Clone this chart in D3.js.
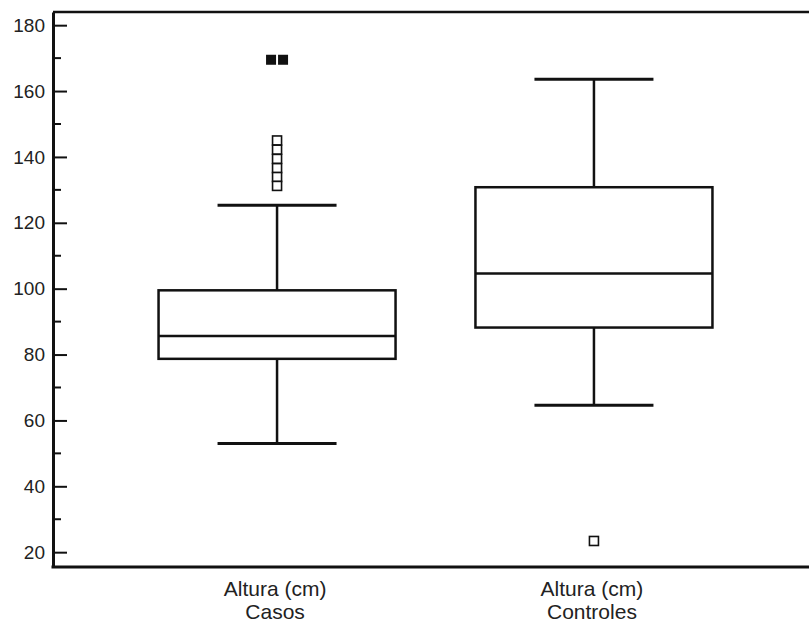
<!DOCTYPE html>
<html>
<head>
<meta charset="utf-8">
<script src="https://cdn.jsdelivr.net/npm/d3@7"></script>
<style>
  body { margin: 0; background: #fff; }
  .chart text { font-family: 'Liberation Sans', Arial, sans-serif; fill: #222; }
</style>
</head>
<body>
<div class="content"></div>
<script>
var width = 809
var height = 623

// group names (two label lines each)
var groups = ['Casos', 'Controles']
var labelTop = ['Altura (cm)', 'Altura (cm)']

// box stats
var whiskerLow = [53, 64.6]
var q1 = [78.7, 88.2]
var median = [85.6, 104.6]
var q3 = [99.5, 130.8]
var whiskerHigh = [125.3, 163.6]

// outliers
var farOutliers = [
    { group: 'Casos', value: 169.5, offset: -6 },
    { group: 'Casos', value: 169.5, offset: 6 }
]
var nearOutliers = [
    { group: 'Casos', value: 145 },
    { group: 'Casos', value: 142.2 },
    { group: 'Casos', value: 139.4 },
    { group: 'Casos', value: 136.6 },
    { group: 'Casos', value: 133.9 },
    { group: 'Casos', value: 131.2 },
    { group: 'Controles', value: 23.4 }
]

var majorTicks = [20, 40, 60, 80, 100, 120, 140, 160, 180]
var minorTicks = [30, 50, 70, 90, 110, 130, 150, 170]

var left = 53

var x = d3.scalePoint()
    .domain(groups)
    .range([left, 818])
    .padding(0.707)

var y = d3.scaleLinear()
    .domain([15.5, 184])
    .range([567, 12])

var boxWidth = 237
var capWidth = 119

var svg = d3.select('.content').append('svg')
    .attr('width', width)
    .attr('height', height)
    .append('g')
    .attr('class', 'chart')

// frame: top and bottom lines running off to the right
svg.append('line')
    .attr('x1', left).attr('x2', width)
    .attr('y1', y(184)).attr('y2', y(184))
    .attr('stroke', '#111').attr('stroke-width', 2.5)

svg.append('line')
    .attr('x1', left - 1.5).attr('x2', width)
    .attr('y1', y(15.5)).attr('y2', y(15.5))
    .attr('stroke', '#111').attr('stroke-width', 3)

// y axis, ticks pointing inside
var yAxis = svg.append('g')
    .attr('transform', 'translate(' + left + ',0)')
    .call(d3.axisLeft(y).tickValues(majorTicks).tickSizeInner(-14).tickSizeOuter(0).tickPadding(8))

yAxis.select('.domain').attr('stroke', '#111').attr('stroke-width', 3)
yAxis.selectAll('.tick line').attr('stroke', '#111').attr('stroke-width', 2)
yAxis.selectAll('.tick text')
    .style('font-family', "'Liberation Sans', Arial, sans-serif")
    .style('font-size', '19px')
    .attr('fill', '#222')

svg.append('g')
    .attr('class', 'minor')
    .selectAll('line')
    .data(minorTicks)
    .enter().append('line')
    .attr('x1', left).attr('x2', left + 8)
    .attr('y1', function(d) { return y(d) })
    .attr('y2', function(d) { return y(d) })
    .attr('stroke', '#111').attr('stroke-width', 2)

// boxes
var box = svg.append('g')
    .attr('class', 'boxes')
    .selectAll('g')
    .data(groups)
    .enter().append('g')

box.append('line')
    .attr('x1', function(d) { return x(d) })
    .attr('x2', function(d) { return x(d) })
    .attr('y1', function(d, i) { return y(whiskerHigh[i]) })
    .attr('y2', function(d, i) { return y(q3[i]) })
    .attr('stroke', '#111').attr('stroke-width', 2.5)

box.append('line')
    .attr('x1', function(d) { return x(d) })
    .attr('x2', function(d) { return x(d) })
    .attr('y1', function(d, i) { return y(q1[i]) })
    .attr('y2', function(d, i) { return y(whiskerLow[i]) })
    .attr('stroke', '#111').attr('stroke-width', 2.5)

box.append('line')
    .attr('x1', function(d) { return x(d) - capWidth / 2 })
    .attr('x2', function(d) { return x(d) + capWidth / 2 })
    .attr('y1', function(d, i) { return y(whiskerHigh[i]) })
    .attr('y2', function(d, i) { return y(whiskerHigh[i]) })
    .attr('stroke', '#111').attr('stroke-width', 3)

box.append('line')
    .attr('x1', function(d) { return x(d) - capWidth / 2 })
    .attr('x2', function(d) { return x(d) + capWidth / 2 })
    .attr('y1', function(d, i) { return y(whiskerLow[i]) })
    .attr('y2', function(d, i) { return y(whiskerLow[i]) })
    .attr('stroke', '#111').attr('stroke-width', 3)

box.append('rect')
    .attr('x', function(d) { return x(d) - boxWidth / 2 })
    .attr('width', boxWidth)
    .attr('y', function(d, i) { return y(q3[i]) })
    .attr('height', function(d, i) { return y(q1[i]) - y(q3[i]) })
    .attr('fill', 'none')
    .attr('stroke', '#111').attr('stroke-width', 2.5)

box.append('line')
    .attr('x1', function(d) { return x(d) - boxWidth / 2 })
    .attr('x2', function(d) { return x(d) + boxWidth / 2 })
    .attr('y1', function(d, i) { return y(median[i]) })
    .attr('y2', function(d, i) { return y(median[i]) })
    .attr('stroke', '#111').attr('stroke-width', 2.5)

// outliers
var sq = 9
svg.append('g')
    .selectAll('rect')
    .data(nearOutliers)
    .enter().append('rect')
    .attr('x', function(d) { return x(d.group) - sq / 2 })
    .attr('y', function(d) { return y(d.value) - sq / 2 })
    .attr('width', sq).attr('height', sq)
    .attr('fill', '#fff')
    .attr('stroke', '#111').attr('stroke-width', 1.6)

svg.append('g')
    .selectAll('rect')
    .data(farOutliers)
    .enter().append('rect')
    .attr('x', function(d) { return x(d.group) + d.offset - 5 })
    .attr('y', function(d) { return y(d.value) - 5 })
    .attr('width', 10).attr('height', 10)
    .attr('fill', '#111')

// category labels
var labels = svg.append('g')
    .selectAll('text')
    .data(groups)
    .enter().append('text')
    .attr('x', function(d) { return x(d) - 2 })
    .attr('text-anchor', 'middle')
    .style('font-size', '21px')

labels.append('tspan')
    .attr('x', function(d) { return x(d) - 2 })
    .attr('y', 596)
    .text(function(d, i) { return labelTop[i] })

labels.append('tspan')
    .attr('x', function(d) { return x(d) - 2 })
    .attr('y', 619)
    .text(function(d) { return d })
</script>
</body>
</html>
